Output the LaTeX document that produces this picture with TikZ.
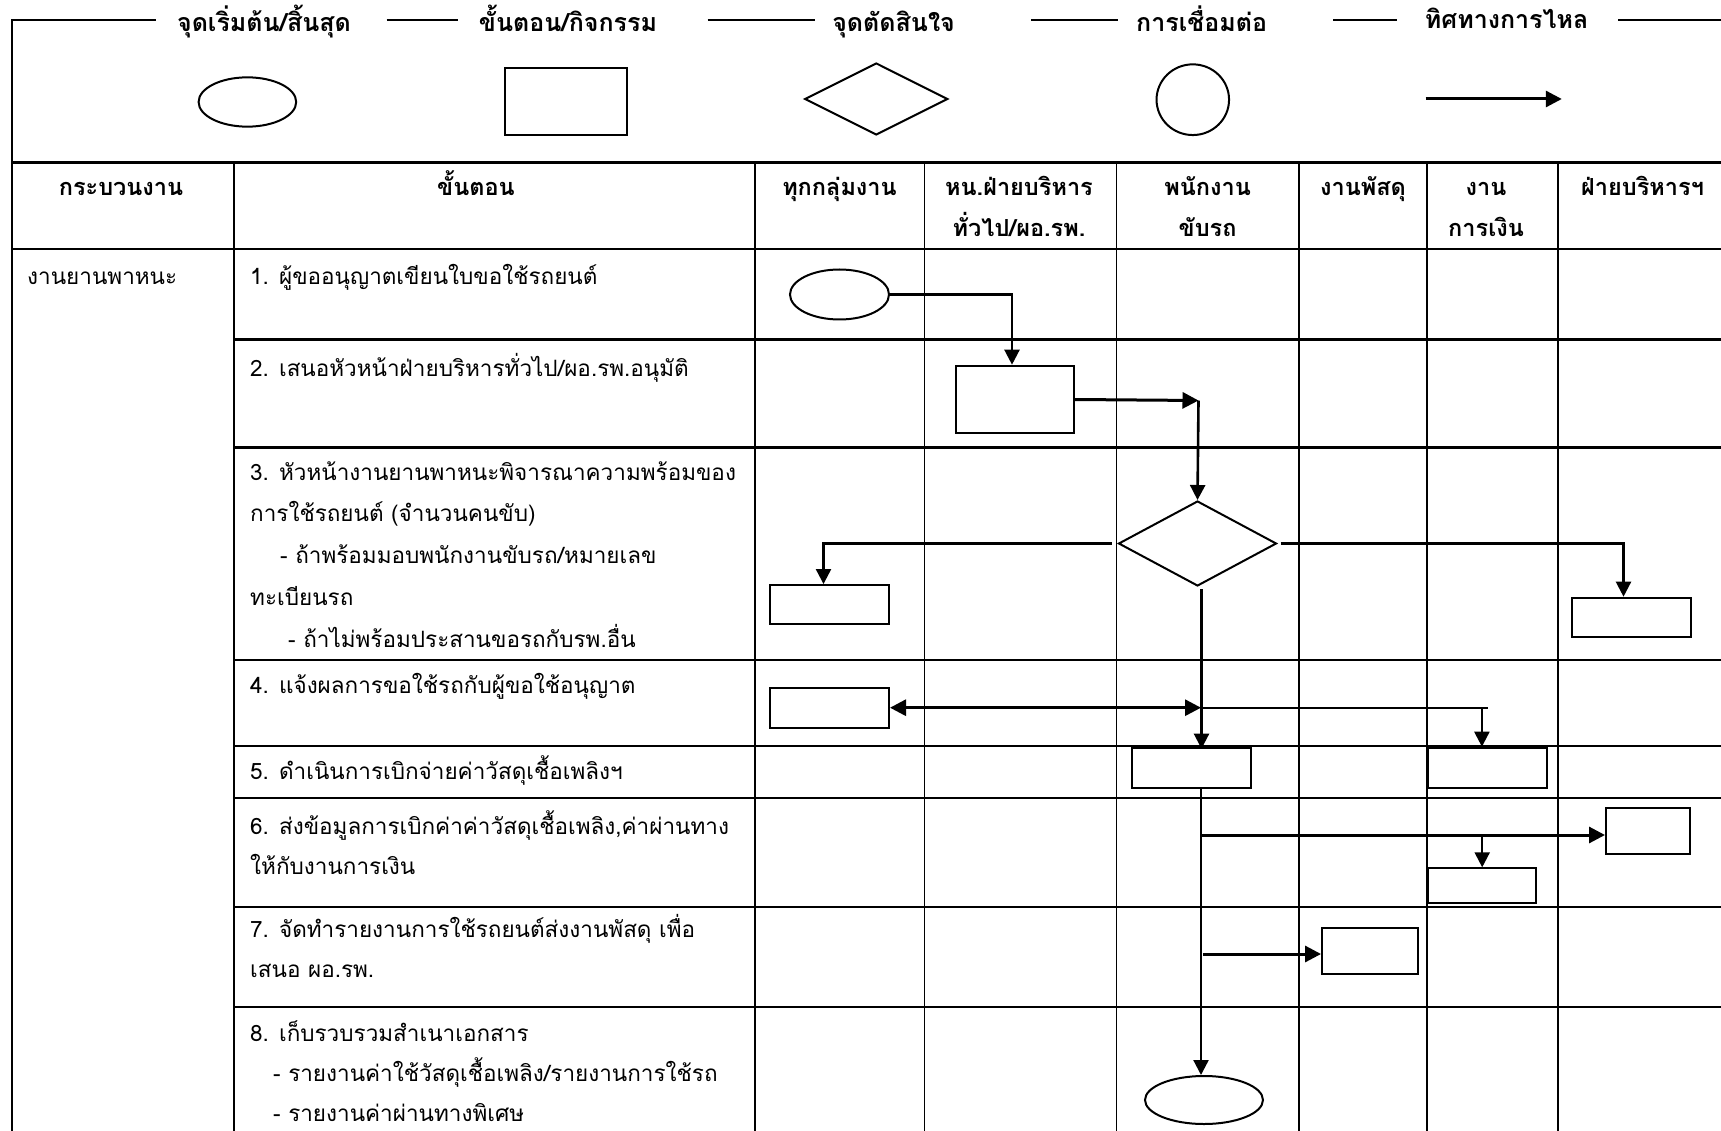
\documentclass[tikz,border=0pt]{standalone}
\usepackage{fontspec}
\setmainfont[Script=Thai]{Loma}
\usetikzlibrary{shapes.geometric,arrows.meta}
\begin{document}
\begin{tikzpicture}[x=1pt,y=-1pt,
 tline/.style={line width=2.2pt},
 vline/.style={line width=1.8pt},
 shp/.style={draw, line width=2pt, inner sep=0pt},
 boxn/.style={shp, rectangle},
 ellp/.style={shp, ellipse},
 dmd/.style={shp, diamond},
 arr/.style={line width=2.3pt, -{Triangle[length=15pt,width=15pt]}},
 thkarr/.style={line width=3pt, -{Triangle[length=16pt,width=16pt]}},
 dblarr/.style={line width=3pt, {Triangle[length=16pt,width=16pt]}-{Triangle[length=16pt,width=16pt]}},
 plainln/.style={line width=2.3pt},
 body/.style={font=\fontsize{22.5}{40}\selectfont, anchor=base west, inner sep=0pt},
 hdr/.style={font=\fontsize{23.5}{40}\selectfont\bfseries, anchor=base, inner sep=0pt},
 legt/.style={font=\fontsize{25}{40}\selectfont\bfseries, anchor=base, inner sep=0pt}]
\fill[white] (0,0) rectangle (1721,1131);
\useasboundingbox (0,0) rectangle (1721,1131);

% ---------- legend ----------
\draw[tline] (12,1131) -- (12,20) -- (156,20);
\draw[tline] (386.7,20) -- (458,20);
\draw[tline] (707.6,20) -- (814.6,20);
\draw[tline] (1031,20) -- (1118,20);
\draw[tline] (1333,20) -- (1397,20);
\draw[tline] (1618,20) -- (1721,20);
\node[legt] (lt1) at (264,32) {จุดเริ่มต้น/สิ้นสุด};
\node[legt] (lt2) at (568,32) {ขั้นตอน/กิจกรรม};
\node[legt] (lt3) at (893.6,32) {จุดตัดสินใจ};
\node[legt] (lt4) at (1201.6,32) {การเชื่อมต่อ};
\node[legt] (lt5) at (1506.6,29) {ทิศทางการไหล};

\node[ellp, minimum width=97.6pt, minimum height=49.3pt] (legE) at (247.4,102) {};
\node[boxn, minimum width=122pt, minimum height=67pt] (legR) at (566,101.5) {};
\node[dmd, minimum width=143pt, minimum height=72pt] (legD) at (876.3,99) {};
\node[ellp, minimum width=72.5pt, minimum height=70.7pt] (legC) at (1192.8,99.7) {};
\coordinate (legA1) at (1425.6,99);
\coordinate (legA2) at (1561.8,99);
\draw[thkarr] (legA1) -- (legA2);

% ---------- table grid ----------
\draw[tline] (12,162.5) -- (1721,162.5);
\draw[tline] (12,249.3) -- (1721,249.3);
\foreach \yy in {339.5,447.5,660,745.7,797.7,907,1007}
  \draw[tline] (234,\yy) -- (1721,\yy);
\foreach \xx in {234,755,924.5,1116.5,1299,1426.6,1558.3}
  \draw[vline] (\xx,162.5) -- (\xx,1131);

% ---------- header ----------
\node[hdr] (h1) at (121,196) {กระบวนงาน};
\node[hdr] (h2) at (476,196) {ขั้นตอน};
\node[hdr] (h3) at (839.5,196) {ทุกกลุ่มงาน};
\node[hdr] (h4a) at (1019,196) {หน.ฝ่ายบริหาร};
\node[hdr] (h4b) at (1019,237) {ทั่วไป/ผอ.รพ.};
\node[hdr] (h5a) at (1207.6,196) {พนักงาน};
\node[hdr] (h5b) at (1207.6,237) {ขับรถ};
\node[hdr] (h6) at (1363,196) {งานพัสดุ};
\node[hdr] (h7a) at (1486,196) {งาน};
\node[hdr] (h7b) at (1486,237) {การเงิน};
\node[hdr] (h8) at (1642.6,196) {ฝ่ายบริหารฯ};

% ---------- body text ----------
\node[body] (proc) at (27,285) {งานยานพาหนะ};
\node[body] (s1) at (250,285) {1. ผู้ขออนุญาตเขียนใบขอใช้รถยนต์};
\node[body] (s2) at (250,377) {2. เสนอหัวหน้าฝ่ายบริหารทั่วไป/ผอ.รพ.อนุมัติ};
\node[body] (s3a) at (250,480) {3. หัวหน้างานยานพาหนะพิจารณาความพร้อมของ};
\node[body] (s3b) at (250,521) {การใช้รถยนต์ (จำนวนคนขับ)};
\node[body] (s3c) at (280,563) {- ถ้าพร้อมมอบพนักงานขับรถ/หมายเลข};
\node[body] (s3d) at (250,605) {ทะเบียนรถ};
\node[body] (s3e) at (288,647) {- ถ้าไม่พร้อมประสานขอรถกับรพ.อื่น};
\node[body] (s4) at (250,693) {4. แจ้งผลการขอใช้รถกับผู้ขอใช้อนุญาต};
\node[body] (s5) at (250,779) {5. ดำเนินการเบิกจ่ายค่าวัสดุเชื้อเพลิงฯ};
\node[body] (s6a) at (250,834) {6. ส่งข้อมูลการเบิกค่าค่าวัสดุเชื้อเพลิง,ค่าผ่านทาง};
\node[body] (s6b) at (250,874) {ให้กับงานการเงิน};
\node[body] (s7a) at (250,937) {7. จัดทำรายงานการใช้รถยนต์ส่งงานพัสดุ เพื่อ};
\node[body] (s7b) at (250,977) {เสนอ ผอ.รพ.};
\node[body] (s8a) at (250,1041) {8. เก็บรวบรวมสำเนาเอกสาร};
\node[body] (s8b) at (273,1081) {- รายงานค่าใช้วัสดุเชื้อเพลิง/รายงานการใช้รถ};
\node[body] (s8c) at (273,1121) {- รายงานค่าผ่านทางพิเศษ};

% ---------- flow shapes ----------
\node[ellp, minimum width=99pt, minimum height=50pt] (start) at (839.5,294.5) {};
\node[boxn, minimum width=118pt, minimum height=67.6pt] (b2) at (1015,399.5) {};
\node[dmd, minimum width=158pt, minimum height=85pt] (dec) at (1197.5,543.5) {};
\node[boxn, minimum width=119pt, minimum height=39.3pt] (b3a) at (829.5,604.7) {};
\node[boxn, minimum width=119.5pt, minimum height=39.6pt] (b3b) at (1631.5,617.5) {};
\node[boxn, minimum width=119pt, minimum height=40pt] (b4) at (829.5,707.7) {};
\node[boxn, minimum width=119pt, minimum height=40pt] (b5) at (1191.9,767.7) {};
\node[boxn, minimum width=119pt, minimum height=40pt] (b5b) at (1487.9,767.7) {};
\node[boxn, minimum width=84pt, minimum height=46.3pt] (b6b) at (1648,830.9) {};
\node[boxn, minimum width=107.6pt, minimum height=34.4pt] (b6a) at (1482.2,885.5) {};
\node[boxn, minimum width=95.7pt, minimum height=46.6pt] (b7) at (1369.9,951) {};
\node[ellp, minimum width=118pt, minimum height=48pt] (endn) at (1204,1100) {};

% ---------- connectors ----------
\coordinate (j1) at (1198.5,400.5);
\coordinate (j4) at (1201,707.7);
\coordinate (t5) at (1201,787.7);
\coordinate (j6) at (1201,835);
\coordinate (j7) at (1203,954);

\draw[arr] (start.east) -| ([xshift=-3pt]b2.north);
\draw[thkarr] (b2.east) -- (j1);
\draw[arr, line width=2.6pt] (j1) -- (dec.north);
\draw[arr, shorten <=6pt] (dec.west) -| ([xshift=-6pt]b3a.north);
\draw[arr, shorten <=3pt] (dec.east) -| ([xshift=-8pt]b3b.north);
\draw[arr] ([xshift=4pt,yshift=-2pt]dec.south) -- ([xshift=4pt,yshift=-2pt]dec.south |- b5.north);
\draw[dblarr] (b4.east) -- (j4);
\draw[plainln] (j4) -- (j4 -| b5b.north);
\draw[arr] (j4 -| b5b.north) ++(-6pt,0) -- ([xshift=-6pt]b5b.north);
\draw[arr] (t5) -- (t5 |- endn.north);
\draw[thkarr] (j6) -- (j6 -| b6b.west);
\draw[arr] (j6 -| b6a.north) -- (b6a.north);
\draw[thkarr] (j7) -- (j7 -| b7.west);
\end{tikzpicture}
\end{document}
